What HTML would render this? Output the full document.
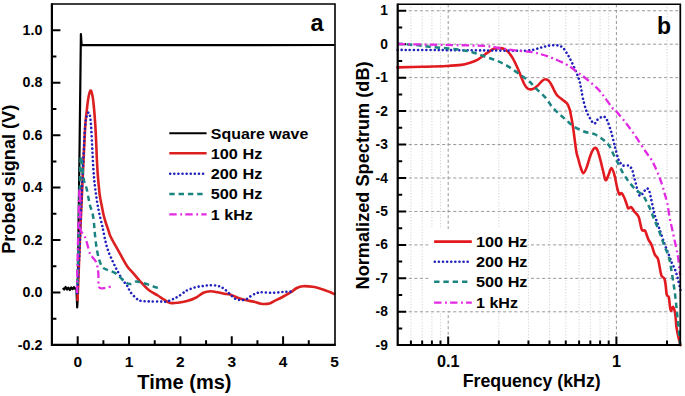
<!DOCTYPE html><html><head><meta charset="utf-8"><style>html,body{margin:0;padding:0;background:#fff;width:685px;height:396px;overflow:hidden}svg{display:block}</style></head><body>
<svg width="685" height="396" viewBox="0 0 685 396">
<rect x="0" y="0" width="685" height="396" fill="#fff"/>
<path d="M51.9,318.72h4.5 M51.9,292.5h8.5 M51.9,266.28h4.5 M51.9,240.06h8.5 M51.9,213.84h4.5 M51.9,187.62h8.5 M51.9,161.4h4.5 M51.9,135.18h8.5 M51.9,108.96h4.5 M51.9,82.74h8.5 M51.9,56.52h4.5 M51.9,30.3h8.5 M77.7,344.8v-8.5 M103.38,344.8v-4.5 M129.05,344.8v-8.5 M154.73,344.8v-4.5 M180.4,344.8v-8.5 M206.07,344.8v-4.5 M231.75,344.8v-8.5 M257.43,344.8v-4.5 M283.1,344.8v-8.5 M308.78,344.8v-4.5" stroke="#000" stroke-width="2" fill="none"/>
<polyline points="62.8,288 64.2,289.5 65.6,287 67,289.6 68.4,287.6 69.8,290 71.2,287.5 72.6,289.2 74,287.2 75.4,289 76.4,288.5 77.2,307.5 77.6,300 79.6,145 80.9,34 81.6,45.1 334.6,45" stroke="#000" stroke-width="2.2" fill="none" stroke-linejoin="round"/>
<path d="M77.5,300 C77.62,297.5 77.87,293.33 78.2,285 C78.53,276.67 79,262.5 79.5,250 C80,237.5 80.57,224.17 81.2,210 C81.83,195.83 82.65,178.67 83.3,165 C83.95,151.33 84.58,136.5 85.1,128 C85.62,119.5 85.88,118.83 86.4,114 C86.92,109.17 87.52,102.9 88.2,99 C88.88,95.1 89.8,91.18 90.5,90.6 C91.2,90.02 91.85,92.93 92.4,95.5 C92.95,98.07 93.32,101.08 93.8,106 C94.28,110.92 94.88,118.5 95.3,125 C95.72,131.5 96.03,139.17 96.3,145 C96.57,150.83 96.65,155 96.9,160 C97.15,165 97.48,170.67 97.8,175 C98.12,179.33 98.48,182.67 98.8,186 C99.12,189.33 99.23,191.83 99.7,195 C100.17,198.17 100.95,201.67 101.6,205 C102.25,208.33 102.92,212.08 103.6,215 C104.28,217.92 104.92,220 105.7,222.5 C106.48,225 107.53,227.75 108.3,230 C109.07,232.25 109.15,233.47 110.3,236 C111.45,238.53 113.38,241.9 115.2,245.2 C117.02,248.5 119.18,252.27 121.2,255.8 C123.22,259.33 125.2,263.4 127.3,266.4 C129.4,269.4 131.45,271.08 133.8,273.8 C136.15,276.52 138.87,279.95 141.4,282.7 C143.93,285.45 146.27,288.17 149,290.3 C151.73,292.43 155.28,293.93 157.8,295.5 C160.32,297.07 161.98,298.47 164.1,299.7 C166.22,300.93 168.18,302.4 170.5,302.9 C172.82,303.4 175.25,303.02 178,302.7 C180.75,302.38 184.13,301.78 187,301 C189.87,300.22 192.47,299.37 195.2,298 C197.93,296.63 200.87,293.92 203.4,292.8 C205.93,291.68 208.07,291.4 210.4,291.3 C212.73,291.2 215.07,291.8 217.4,292.2 C219.73,292.6 222.27,293.32 224.4,293.7 C226.53,294.08 227.87,293.78 230.2,294.5 C232.53,295.22 235.47,296.98 238.4,298 C241.33,299.02 245.03,299.93 247.8,300.6 C250.57,301.27 252.8,301.47 255,302 C257.2,302.53 258.6,303.55 261,303.8 C263.4,304.05 267.2,303.95 269.4,303.5 C271.6,303.05 272.02,302.18 274.2,301.1 C276.38,300.02 279.72,298.48 282.5,297 C285.28,295.52 288.5,293.7 290.9,292.2 C293.3,290.7 294.9,289 296.9,288 C298.9,287 300.3,286.4 302.9,286.2 C305.5,286 309.3,286.3 312.5,286.8 C315.7,287.3 319.3,288.37 322.1,289.2 C324.9,290.03 327.28,291 329.3,291.8 C331.32,292.6 333.38,293.63 334.2,294" stroke="#dc2020" stroke-width="2.6" fill="none" stroke-linejoin="round" stroke-linecap="round"/>
<path d="M77.2,293 C77.42,289.17 78.03,278.83 78.5,270 C78.97,261.17 79.53,250.83 80,240 C80.47,229.17 80.87,215.83 81.3,205 C81.73,194.17 82.18,184.17 82.6,175 C83.02,165.83 83.4,157.83 83.8,150 C84.2,142.17 84.55,133.5 85,128 C85.45,122.5 85.92,119.58 86.5,117 C87.08,114.42 87.92,112.67 88.5,112.5 C89.08,112.33 89.58,113.92 90,116 C90.42,118.08 90.65,120.17 91,125 C91.35,129.83 91.77,138.67 92.1,145 C92.43,151.33 92.68,157.67 93,163 C93.32,168.33 93.68,173.17 94,177 C94.32,180.83 94.55,183 94.9,186 C95.25,189 95.65,191.83 96.1,195 C96.55,198.17 97.02,201.67 97.6,205 C98.18,208.33 98.85,211.62 99.6,215 C100.35,218.38 101.48,222.63 102.1,225.3 C102.72,227.97 102.77,228.45 103.3,231 C103.83,233.55 104.47,237.23 105.3,240.6 C106.13,243.97 107.03,247.67 108.3,251.2 C109.57,254.73 111.38,258.52 112.9,261.8 C114.42,265.08 115.77,267.87 117.4,270.9 C119.03,273.93 121.05,277.48 122.7,280 C124.35,282.52 126,283.98 127.3,286 C128.6,288.02 128.98,290.02 130.5,292.1 C132.02,294.18 134.58,297.02 136.4,298.5 C138.22,299.98 139.08,300.52 141.4,301 C143.72,301.48 146.93,301.3 150.3,301.4 C153.67,301.5 158.87,301.58 161.6,301.6 C164.33,301.62 164.8,301.92 166.7,301.5 C168.6,301.08 171.12,299.92 173,299.1 C174.88,298.28 176.12,297.77 178,296.6 C179.88,295.43 182.8,293.13 184.3,292.1 C185.8,291.07 185.18,291.2 187,290.4 C188.82,289.6 192.47,288.03 195.2,287.3 C197.93,286.57 200.87,286.35 203.4,286 C205.93,285.65 208.07,285.23 210.4,285.2 C212.73,285.17 215.47,285.42 217.4,285.8 C219.33,286.18 220.45,286.63 222,287.5 C223.55,288.37 225.13,289.63 226.7,291 C228.27,292.37 229.85,294.33 231.4,295.7 C232.95,297.07 234.25,298.47 236,299.2 C237.75,299.93 240.13,300.13 241.9,300.1 C243.67,300.07 244.85,299.83 246.6,299 C248.35,298.17 250.55,296.13 252.4,295.1 C254.25,294.07 256.27,293.28 257.7,292.8 C259.13,292.32 258.45,292.2 261,292.2 C263.55,292.2 269.02,292.87 273,292.8 C276.98,292.73 281.32,292 284.9,291.8 C288.48,291.6 292.9,291.63 294.5,291.6" stroke="#2020bc" stroke-width="2.6" fill="none" stroke-dasharray="0.01 4.1" stroke-linecap="round"/>
<path d="M77,293 C77.22,285.83 77.88,265.5 78.3,250 C78.72,234.5 79.1,215.33 79.5,200 C79.9,184.67 80.25,163.67 80.7,158 C81.15,152.33 81.75,162.83 82.2,166 C82.65,169.17 82.97,174 83.4,177 C83.83,180 84.27,182.08 84.8,184 C85.33,185.92 85.98,186.17 86.6,188.5 C87.22,190.83 87.93,195.17 88.5,198 C89.07,200.83 89.33,202.97 90,205.5 C90.67,208.03 91.83,210.23 92.5,213.2 C93.17,216.17 93.62,220 94,223.3 C94.38,226.6 94.4,229.12 94.8,233 C95.2,236.88 95.67,242.12 96.4,246.6 C97.13,251.08 98.1,256.37 99.2,259.9 C100.3,263.43 101.35,266.05 103,267.8 C104.65,269.55 106.82,269.37 109.1,270.4 C111.38,271.43 114.18,272.18 116.7,274 C119.22,275.82 121.98,279.63 124.2,281.3 C126.42,282.97 127.97,283.98 130,284 C132.03,284.02 134.5,281.62 136.4,281.4 C138.3,281.18 139.08,282.07 141.4,282.7 C143.72,283.33 147.77,284.4 150.3,285.2 C152.83,286 154.85,287.43 156.6,287.5 C158.35,287.57 160.1,285.92 160.8,285.6" stroke="#1a8480" stroke-width="2.5" fill="none" stroke-dasharray="5.4 3.9"/>
<path d="M76.8,293 C76.97,285.83 77.45,264.67 77.8,250 C78.15,235.33 78.6,215.33 78.9,205 C79.2,194.67 79.37,188 79.6,188 C79.83,188 80.17,198.23 80.3,205 C80.43,211.77 79.77,223.55 80.4,228.6 C81.03,233.65 83.02,232.93 84.1,235.3 C85.18,237.67 85.95,239.8 86.9,242.8 C87.85,245.8 88.85,250.88 89.8,253.3 C90.75,255.72 91.5,255.73 92.6,257.3 C93.7,258.87 95.45,260.08 96.4,262.7 C97.35,265.32 97.83,268.9 98.3,273 C98.77,277.1 97.93,284.85 99.2,287.3 C100.47,289.75 103.52,287.92 105.9,287.7 C108.28,287.48 112.23,286.28 113.5,286" stroke="#e22ae2" stroke-width="2.3" fill="none" stroke-dasharray="7.4 3.5 1.9 3.2"/>
<path d="M51.9,4H335V344.8" stroke="#000" stroke-width="1.6" fill="none"/>
<path d="M51.9,3.2V344.8H335.8" stroke="#000" stroke-width="2.2" fill="none"/>
<text x="42.4" y="349.64" font-family="Liberation Sans, sans-serif" font-weight="bold" font-size="14.3" text-anchor="end">-0.2</text>
<text x="42.4" y="297.2" font-family="Liberation Sans, sans-serif" font-weight="bold" font-size="14.3" text-anchor="end">0.0</text>
<text x="42.4" y="244.76" font-family="Liberation Sans, sans-serif" font-weight="bold" font-size="14.3" text-anchor="end">0.2</text>
<text x="42.4" y="192.32" font-family="Liberation Sans, sans-serif" font-weight="bold" font-size="14.3" text-anchor="end">0.4</text>
<text x="42.4" y="139.88" font-family="Liberation Sans, sans-serif" font-weight="bold" font-size="14.3" text-anchor="end">0.6</text>
<text x="42.4" y="87.44" font-family="Liberation Sans, sans-serif" font-weight="bold" font-size="14.3" text-anchor="end">0.8</text>
<text x="42.4" y="35" font-family="Liberation Sans, sans-serif" font-weight="bold" font-size="14.3" text-anchor="end">1.0</text>
<text x="77.7" y="366.5" font-family="Liberation Sans, sans-serif" font-weight="bold" font-size="15.5" text-anchor="middle">0</text>
<text x="129.05" y="366.5" font-family="Liberation Sans, sans-serif" font-weight="bold" font-size="15.5" text-anchor="middle">1</text>
<text x="180.4" y="366.5" font-family="Liberation Sans, sans-serif" font-weight="bold" font-size="15.5" text-anchor="middle">2</text>
<text x="231.75" y="366.5" font-family="Liberation Sans, sans-serif" font-weight="bold" font-size="15.5" text-anchor="middle">3</text>
<text x="283.1" y="366.5" font-family="Liberation Sans, sans-serif" font-weight="bold" font-size="15.5" text-anchor="middle">4</text>
<text x="334.45" y="366.5" font-family="Liberation Sans, sans-serif" font-weight="bold" font-size="15.5" text-anchor="middle">5</text>
<text x="184.4" y="389" font-family="Liberation Sans, sans-serif" font-weight="bold" font-size="20" text-anchor="middle">Time (ms)</text>
<text transform="translate(15.4,179.3) rotate(-90)" x="0" y="0" font-family="Liberation Sans, sans-serif" font-weight="bold" font-size="17.5" text-anchor="middle" textLength="149" lengthAdjust="spacingAndGlyphs">Probed signal (V)</text>
<text x="317" y="30.7" font-family="Liberation Sans, sans-serif" font-weight="bold" font-size="23.5" text-anchor="middle">a</text>
<path d="M169.3,133.3H206.6" stroke="#000" stroke-width="2" fill="none"/>
<text x="210.8" y="138.7" font-family="Liberation Sans, sans-serif" font-weight="bold" font-size="15" textLength="97.5" lengthAdjust="spacingAndGlyphs">Square wave</text>
<path d="M169.3,153.3H206.6" stroke="#dc2020" stroke-width="2.6" fill="none" stroke-linejoin="round" stroke-linecap="butt"/>
<text x="210.8" y="158.7" font-family="Liberation Sans, sans-serif" font-weight="bold" font-size="15" textLength="51.5" lengthAdjust="spacingAndGlyphs">100 Hz</text>
<path d="M170.2,173.7H204" stroke="#2020bc" stroke-width="2.6" fill="none" stroke-dasharray="0.01 4.1" stroke-linecap="round"/>
<text x="210.8" y="179.1" font-family="Liberation Sans, sans-serif" font-weight="bold" font-size="15" textLength="51.5" lengthAdjust="spacingAndGlyphs">200 Hz</text>
<path d="M169.3,193.9H203" stroke="#1a8480" stroke-width="2.5" fill="none" stroke-dasharray="5.4 3.9"/>
<text x="210.8" y="199.3" font-family="Liberation Sans, sans-serif" font-weight="bold" font-size="15" textLength="51.5" lengthAdjust="spacingAndGlyphs">500 Hz</text>
<path d="M169.3,214.3H206.6" stroke="#e22ae2" stroke-width="2.3" fill="none" stroke-dasharray="7.4 3.5 1.9 3.2"/>
<text x="210.8" y="219.7" font-family="Liberation Sans, sans-serif" font-weight="bold" font-size="15" textLength="42" lengthAdjust="spacingAndGlyphs">1 kHz</text>
<path d="M397.7,311.8H680.3 M397.7,278.35H680.3 M397.7,244.9H680.3 M397.7,211.45H680.3 M397.7,178H680.3 M397.7,144.55H680.3 M397.7,111.1H680.3 M397.7,77.65H680.3 M397.7,44.2H680.3 M397.7,10.75H680.3 M448.2,4.25V345 M616.4,4.25V345" stroke="#999" stroke-width="1" stroke-dasharray="3.1 2.45" fill="none"/>
<path d="M410.89,4.25V345 M422.15,4.25V345 M431.9,4.25V345 M440.5,4.25V345 M498.83,4.25V345 M528.45,4.25V345 M549.47,4.25V345 M565.77,4.25V345 M579.09,4.25V345 M590.35,4.25V345 M600.1,4.25V345 M608.7,4.25V345 M667.03,4.25V345" stroke="#c4c4c4" stroke-width="0.9" stroke-dasharray="1 2" fill="none"/>
<rect x="428.5" y="229" width="99" height="82" fill="#fff"/>
<path d="M397.7,328.53h4.5 M397.7,311.8h8.5 M397.7,295.08h4.5 M397.7,278.35h8.5 M397.7,261.62h4.5 M397.7,244.9h8.5 M397.7,228.18h4.5 M397.7,211.45h8.5 M397.7,194.73h4.5 M397.7,178h8.5 M397.7,161.28h4.5 M397.7,144.55h8.5 M397.7,127.83h4.5 M397.7,111.1h8.5 M397.7,94.38h4.5 M397.7,77.65h8.5 M397.7,60.93h4.5 M397.7,44.2h8.5 M397.7,27.48h4.5 M397.7,10.75h8.5 M410.89,345v-4.5 M422.15,345v-4.5 M431.9,345v-4.5 M440.5,345v-4.5 M448.2,345v-8.5 M498.83,345v-4.5 M528.45,345v-4.5 M549.47,345v-4.5 M565.77,345v-4.5 M579.09,345v-4.5 M590.35,345v-4.5 M600.1,345v-4.5 M608.7,345v-4.5 M616.4,345v-8.5 M667.03,345v-4.5" stroke="#000" stroke-width="2" fill="none"/>
<path d="M397.6,67.4 C401.65,67.3 413.72,67.03 421.9,66.8 C430.08,66.57 440.13,66.32 446.7,66 C453.27,65.68 457.4,65.45 461.3,64.9 C465.2,64.35 467.42,63.55 470.1,62.7 C472.78,61.85 474.97,61.13 477.4,59.8 C479.83,58.47 482.27,56.4 484.7,54.7 C487.13,53 490.12,50.65 492,49.6 C493.88,48.55 494.67,48.65 496,48.4 C497.33,48.15 498.75,48.05 500,48.1 C501.25,48.15 502.18,48.1 503.5,48.7 C504.82,49.3 506.42,50.2 507.9,51.7 C509.38,53.2 510.88,55.18 512.4,57.7 C513.92,60.22 515.6,63.77 517,66.8 C518.4,69.83 519.55,72.95 520.8,75.9 C522.05,78.85 523.37,82.38 524.5,84.5 C525.63,86.62 526.58,87.78 527.6,88.6 C528.62,89.42 529.53,89.45 530.6,89.4 C531.67,89.35 532.77,88.97 534,88.3 C535.23,87.63 536.67,86.62 538,85.4 C539.33,84.18 540.73,82.02 542,81 C543.27,79.98 544.43,79.27 545.6,79.3 C546.77,79.33 547.93,80.08 549,81.2 C550.07,82.32 551.08,84.37 552,86 C552.92,87.63 553.6,89.4 554.5,91 C555.4,92.6 556.03,94.12 557.4,95.6 C558.77,97.08 561.08,98.58 562.7,99.9 C564.32,101.22 565.93,101.92 567.1,103.5 C568.27,105.08 568.97,106.93 569.7,109.4 C570.43,111.87 570.9,115.05 571.5,118.3 C572.1,121.55 572.72,124.95 573.3,128.9 C573.88,132.85 574.45,137.98 575,142 C575.55,146.02 576.05,150.17 576.6,153 C577.15,155.83 577.63,156.62 578.3,159 C578.97,161.38 579.75,164.93 580.6,167.3 C581.45,169.67 582.38,173.2 583.4,173.2 C584.42,173.2 585.52,170.3 586.7,167.3 C587.88,164.3 589.25,158.37 590.5,155.2 C591.75,152.03 593.07,149.2 594.2,148.3 C595.33,147.4 596.28,147.9 597.3,149.8 C598.32,151.7 599.3,156.03 600.3,159.7 C601.3,163.37 602.42,168.38 603.3,171.8 C604.18,175.22 604.72,179.7 605.6,180.2 C606.48,180.7 607.63,176.83 608.6,174.8 C609.57,172.77 610.43,168 611.4,168 C612.37,168 613.47,171.63 614.4,174.8 C615.33,177.97 616.2,183.75 617,187 C617.8,190.25 618.45,193.27 619.2,194.3 C619.95,195.33 620.67,192.67 621.5,193.2 C622.33,193.73 623.4,195.87 624.2,197.5 C625,199.13 625.63,201.18 626.3,203 C626.97,204.82 627.38,207.7 628.2,208.4 C629.02,209.1 630.18,206.68 631.2,207.2 C632.22,207.72 633.07,209.9 634.3,211.5 C635.53,213.1 637.35,213.77 638.6,216.8 C639.85,219.83 640.72,227.37 641.8,229.7 C642.88,232.03 644.02,229.18 645.1,230.8 C646.18,232.42 647.23,237.08 648.3,239.4 C649.37,241.72 650.43,242.2 651.5,244.7 C652.57,247.2 653.63,252.07 654.7,254.4 C655.77,256.73 657,256.2 657.9,258.7 C658.8,261.2 659.5,266.57 660.1,269.4 C660.7,272.23 660.77,274.1 661.5,275.7 C662.23,277.3 663.78,277.2 664.5,279 C665.22,280.8 665.42,283.83 665.8,286.5 C666.18,289.17 666.3,293.22 666.8,295 C667.3,296.78 668.27,295.23 668.8,297.2 C669.33,299.17 669.62,304.5 670,306.8 C670.38,309.1 670.57,310.97 671.1,311 C671.63,311.03 672.5,306.43 673.2,307 C673.9,307.57 674.75,311.03 675.3,314.4 C675.85,317.77 675.95,323.27 676.5,327.2 C677.05,331.13 677.95,335 678.6,338 C679.25,341 680.1,344 680.4,345.2" stroke="#e21a20" stroke-width="2.6" fill="none" stroke-linejoin="round" stroke-linecap="round"/>
<path d="M397.6,49.9 C404.67,49.93 425.83,50.02 440,50.1 C454.17,50.18 472.6,50.32 482.6,50.4 C492.6,50.48 494.55,50.55 500,50.6 C505.45,50.65 511.13,50.68 515.3,50.7 C519.47,50.72 522.07,50.83 525,50.7 C527.93,50.57 530.4,50.38 532.9,49.9 C535.4,49.42 537.88,48.38 540,47.8 C542.12,47.22 543.93,46.78 545.6,46.4 C547.27,46.02 548.32,45.7 550,45.5 C551.68,45.3 554.03,45.12 555.7,45.2 C557.37,45.28 558.75,45.55 560,46 C561.25,46.45 562.2,46.9 563.2,47.9 C564.2,48.9 565.12,50.65 566,52 C566.88,53.35 567.7,54.62 568.5,56 C569.3,57.38 569.88,58.47 570.8,60.3 C571.72,62.13 572.95,64.68 574,67 C575.05,69.32 576.18,71.87 577.1,74.2 C578.02,76.53 578.82,78.53 579.5,81 C580.18,83.47 580.62,86.03 581.2,89 C581.78,91.97 582.12,95.1 583,98.8 C583.88,102.5 585.17,107.67 586.5,111.2 C587.83,114.73 589.67,117.93 591,120 C592.33,122.07 593.33,123.73 594.5,123.6 C595.67,123.47 596.53,120.38 598,119.2 C599.47,118.02 602.05,116.7 603.3,116.5 C604.55,116.3 604.75,117.12 605.5,118 C606.25,118.88 606.83,119.4 607.8,121.8 C608.77,124.2 610.27,128.87 611.3,132.4 C612.33,135.93 613.3,140.23 614,143 C614.7,145.77 614.75,146.22 615.5,149 C616.25,151.78 617.7,157.4 618.5,159.7 C619.3,162 619.58,161.83 620.3,162.8 C621.02,163.77 621.38,165.02 622.8,165.5 C624.22,165.98 627.27,165.03 628.8,165.7 C630.33,166.37 631.15,167.72 632,169.5 C632.85,171.28 633.27,174.08 633.9,176.4 C634.53,178.72 635.17,180.97 635.8,183.4 C636.43,185.83 636.97,188.9 637.7,191 C638.43,193.1 639.15,195.9 640.2,196 C641.25,196.1 642.95,192.87 644,191.6 C645.05,190.33 645.67,188.62 646.5,188.4 C647.33,188.18 648.27,188.72 649,190.3 C649.73,191.88 650.27,195.17 650.9,197.9 C651.53,200.63 652.18,203.85 652.8,206.7 C653.42,209.55 653.57,211.52 654.6,215 C655.63,218.48 657.37,222.83 659,227.6 C660.63,232.37 662.78,239.13 664.4,243.6 C666.02,248.07 667.45,251.17 668.7,254.4 C669.95,257.63 670.82,260.4 671.9,263 C672.98,265.6 674.25,267.52 675.2,270 C676.15,272.48 676.85,275.15 677.6,277.9 C678.35,280.65 679.23,284.48 679.7,286.5 C680.17,288.52 680.28,289.42 680.4,290" stroke="#2020bc" stroke-width="2.6" fill="none" stroke-dasharray="0.01 4.1" stroke-linecap="round"/>
<path d="M397.6,43.8 C400.43,43.98 409.33,44.42 414.6,44.9 C419.87,45.38 424.33,46.17 429.2,46.7 C434.07,47.23 438.93,47.62 443.8,48.1 C448.67,48.58 454.02,49.02 458.4,49.6 C462.78,50.18 466.65,50.78 470.1,51.6 C473.55,52.42 476.08,53.48 479.1,54.5 C482.12,55.52 485.17,56.63 488.2,57.7 C491.23,58.77 494.27,59.63 497.3,60.9 C500.33,62.17 503.37,63.55 506.4,65.3 C509.43,67.05 512.73,69.5 515.5,71.4 C518.27,73.3 520.58,74.93 523,76.7 C525.42,78.47 527.92,80.1 530,82 C532.08,83.9 533,85.58 535.5,88.1 C538,90.62 542.23,93.98 545,97.1 C547.77,100.22 549.75,104 552.1,106.8 C554.45,109.6 556.75,111.7 559.1,113.9 C561.45,116.1 563.83,117.95 566.2,120 C568.57,122.05 570.35,124.28 573.3,126.2 C576.25,128.12 580.37,130.17 583.9,131.5 C587.43,132.83 591.27,132.83 594.5,134.2 C597.73,135.57 600.82,137.72 603.3,139.7 C605.78,141.68 607.63,143.52 609.4,146.1 C611.17,148.68 612.38,152.18 613.9,155.2 C615.42,158.22 617.1,161.43 618.5,164.2 C619.9,166.97 621.03,169.52 622.3,171.8 C623.57,174.08 624.8,175.97 626.1,177.9 C627.4,179.83 628.48,181.43 630.1,183.4 C631.72,185.37 633.9,187.92 635.8,189.7 C637.7,191.48 640.03,192.73 641.5,194.1 C642.97,195.47 643.77,196.63 644.6,197.9 C645.43,199.17 645.65,200.02 646.5,201.7 C647.35,203.38 648.52,205.3 649.7,208 C650.88,210.7 652.05,214.1 653.6,217.9 C655.15,221.7 657.2,226.15 659,230.8 C660.8,235.45 662.78,241.52 664.4,245.8 C666.02,250.08 667.6,252.8 668.7,256.5 C669.8,260.2 670.23,263.72 671,268 C671.77,272.28 672.57,277.33 673.3,282.2 C674.03,287.07 674.68,291.13 675.4,297.2 C676.12,303.27 676.88,311.45 677.6,318.6 C678.32,325.75 679.27,335.7 679.7,340.1 C680.13,344.5 680.12,344.18 680.2,345" stroke="#1a8480" stroke-width="2.5" fill="none" stroke-dasharray="5.4 3.9"/>
<path d="M397.6,44 C405.3,44.15 431.23,44.65 443.8,44.9 C456.37,45.15 466.13,45.33 473,45.5 C479.87,45.67 481.47,45.63 485,45.9 C488.53,46.17 490.38,46.52 494.2,47.1 C498.02,47.68 503.6,48.77 507.9,49.4 C512.2,50.03 516.25,50.5 520,50.9 C523.75,51.3 527.07,51.28 530.4,51.8 C533.73,52.32 537.05,53.22 540,54 C542.95,54.78 545.27,55.5 548.1,56.5 C550.93,57.5 554.05,58.73 557,60 C559.95,61.27 563.3,62.77 565.8,64.1 C568.3,65.43 569.9,66.53 572,68 C574.1,69.47 576.4,71.4 578.4,72.9 C580.4,74.4 582.07,75.52 584,77 C585.93,78.48 587.52,79.63 590,81.8 C592.48,83.97 596.38,87.3 598.9,90 C601.42,92.7 602.88,95.05 605.1,98 C607.32,100.95 610.45,105.6 612.2,107.7 C613.95,109.8 613.35,108.1 615.6,110.6 C617.85,113.1 622.33,118.37 625.7,122.7 C629.07,127.03 632.43,131.72 635.8,136.6 C639.17,141.48 643.27,148.1 645.9,152 C648.53,155.9 650.02,157.4 651.6,160 C653.18,162.6 654.15,164.87 655.4,167.6 C656.65,170.33 657.95,173.45 659.1,176.4 C660.25,179.35 661.35,182.35 662.3,185.3 C663.25,188.25 663.97,191.15 664.8,194.1 C665.63,197.05 666.48,199.03 667.3,203 C668.12,206.97 668.75,212.92 669.7,217.9 C670.65,222.88 671.92,227.9 673,232.9 C674.08,237.9 675.33,243.72 676.2,247.9 C677.07,252.08 677.67,254.42 678.2,258 C678.73,261.58 679.07,266.57 679.4,269.4 C679.73,272.23 680.07,274.07 680.2,275" stroke="#e22ae2" stroke-width="2.3" fill="none" stroke-dasharray="7.4 3.5 1.9 3.2"/>
<path d="M397.7,4.25H680.3V345" stroke="#000" stroke-width="1.7" fill="none"/>
<path d="M397.7,3.4V345H681.15" stroke="#000" stroke-width="2.2" fill="none"/>
<text x="387.9" y="349.75" font-family="Liberation Sans, sans-serif" font-weight="bold" font-size="13.8" text-anchor="end">-9</text>
<text x="387.9" y="316.3" font-family="Liberation Sans, sans-serif" font-weight="bold" font-size="13.8" text-anchor="end">-8</text>
<text x="387.9" y="282.85" font-family="Liberation Sans, sans-serif" font-weight="bold" font-size="13.8" text-anchor="end">-7</text>
<text x="387.9" y="249.4" font-family="Liberation Sans, sans-serif" font-weight="bold" font-size="13.8" text-anchor="end">-6</text>
<text x="387.9" y="215.95" font-family="Liberation Sans, sans-serif" font-weight="bold" font-size="13.8" text-anchor="end">-5</text>
<text x="387.9" y="182.5" font-family="Liberation Sans, sans-serif" font-weight="bold" font-size="13.8" text-anchor="end">-4</text>
<text x="387.9" y="149.05" font-family="Liberation Sans, sans-serif" font-weight="bold" font-size="13.8" text-anchor="end">-3</text>
<text x="387.9" y="115.6" font-family="Liberation Sans, sans-serif" font-weight="bold" font-size="13.8" text-anchor="end">-2</text>
<text x="387.9" y="82.15" font-family="Liberation Sans, sans-serif" font-weight="bold" font-size="13.8" text-anchor="end">-1</text>
<text x="387.9" y="48.7" font-family="Liberation Sans, sans-serif" font-weight="bold" font-size="13.8" text-anchor="end">0</text>
<text x="387.9" y="15.25" font-family="Liberation Sans, sans-serif" font-weight="bold" font-size="13.8" text-anchor="end">1</text>
<text x="448.2" y="367.2" font-family="Liberation Sans, sans-serif" font-weight="bold" font-size="16.2" text-anchor="middle">0.1</text>
<text x="616.4" y="367.2" font-family="Liberation Sans, sans-serif" font-weight="bold" font-size="16.2" text-anchor="middle">1</text>
<text x="531.7" y="387.3" font-family="Liberation Sans, sans-serif" font-weight="bold" font-size="17.8" text-anchor="middle" textLength="138" lengthAdjust="spacingAndGlyphs">Frequency (kHz)</text>
<text transform="translate(369.4,175.45) rotate(-90)" x="0" y="0" font-family="Liberation Sans, sans-serif" font-weight="bold" font-size="18" text-anchor="middle" textLength="228" lengthAdjust="spacingAndGlyphs">Normalized Spectrum (dB)</text>
<text x="664" y="34" font-family="Liberation Sans, sans-serif" font-weight="bold" font-size="23" text-anchor="middle">b</text>
<path d="M434.1,241.6H471.8" stroke="#e21a20" stroke-width="2.6" fill="none" stroke-linejoin="round" stroke-linecap="butt"/>
<text x="476" y="246.8" font-family="Liberation Sans, sans-serif" font-weight="bold" font-size="15" textLength="51.5" lengthAdjust="spacingAndGlyphs">100 Hz</text>
<path d="M434.8,261.8H468.5" stroke="#2020bc" stroke-width="2.6" fill="none" stroke-dasharray="0.01 4.1" stroke-linecap="round"/>
<text x="476" y="267" font-family="Liberation Sans, sans-serif" font-weight="bold" font-size="15" textLength="51.5" lengthAdjust="spacingAndGlyphs">200 Hz</text>
<path d="M434.1,281.8H468" stroke="#1a8480" stroke-width="2.5" fill="none" stroke-dasharray="5.4 3.9"/>
<text x="476" y="287" font-family="Liberation Sans, sans-serif" font-weight="bold" font-size="15" textLength="51.5" lengthAdjust="spacingAndGlyphs">500 Hz</text>
<path d="M434.1,302.6H471.8" stroke="#e22ae2" stroke-width="2.3" fill="none" stroke-dasharray="7.4 3.5 1.9 3.2"/>
<text x="476" y="307.8" font-family="Liberation Sans, sans-serif" font-weight="bold" font-size="15" textLength="42" lengthAdjust="spacingAndGlyphs">1 kHz</text>
</svg></body></html>
